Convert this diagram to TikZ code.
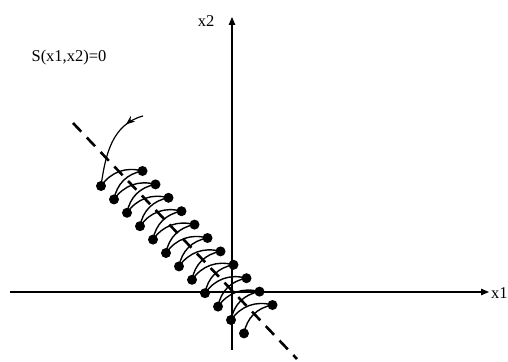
\documentclass[tikz,border=0pt]{standalone}
\usepackage{fontspec}
\setmainfont{Liberation Serif}
\usetikzlibrary{arrows.meta,decorations.markings}

\begin{document}
\begin{tikzpicture}[x=1pt,y=-1pt,
  axis/.style={line width=1.2pt,-{Triangle[length=8pt,width=6.5pt]}},
  lbl/.style={font=\fontsize{16.5}{20}\selectfont,inner sep=0pt},
  surface/.style={line width=2.6pt,dash pattern=on 12pt off 8pt},
  dot/.style={circle,fill=black,inner sep=0pt,minimum size=10pt},
  hop/.style={line width=1.4pt,bend left=35},
  traj/.style={line width=1.2pt,postaction={decorate},
    decoration={markings,mark=at position 0.22 with {\arrow{Stealth[length=9pt,width=7pt]}}}}]
  \useasboundingbox (0,0) rectangle (508,361);
  % Axes
  \coordinate (o1) at (10,292);
  \coordinate (e1) at (489,292);
  \coordinate (o2) at (232,350);
  \coordinate (e2) at (232,17);
  \draw[axis] (o1) -- (e1);
  \draw[axis] (o2) -- (e2);
  \node[lbl,anchor=west] (x1) at (491,293) {x1};
  \node[lbl] (x2) at (206,21) {x2};
  % Sliding surface
  \node[lbl] (surf) at (69,58) {S(x1,x2)=0};
  \coordinate (s1) at (73,123);
  \coordinate (s2) at (297,359);
  \draw[surface] (s1) -- (s2);
  % Points on both sides
  \foreach \i in {1,...,12}
    \node[dot] (L\i) at ({101+13*(\i-1)},{186+13.4*(\i-1)}) {};
  \foreach \i in {1,...,11}
    \node[dot] (R\i) at ({142.5+13*(\i-1)},{171+13.4*(\i-1)}) {};
  % Chattering
  \foreach \i [evaluate=\i as \j using int(\i+1)] in {1,...,11} {
    \draw[hop] (L\i.center) to (R\i.center);
    \draw[hop] (L\j.center) to (R\i.center);
  }
  % Reaching phase
  \coordinate (start) at (143,116);
  \draw[traj] (start) to[out=195,in=82] (L1.center);
\end{tikzpicture}
\end{document}
